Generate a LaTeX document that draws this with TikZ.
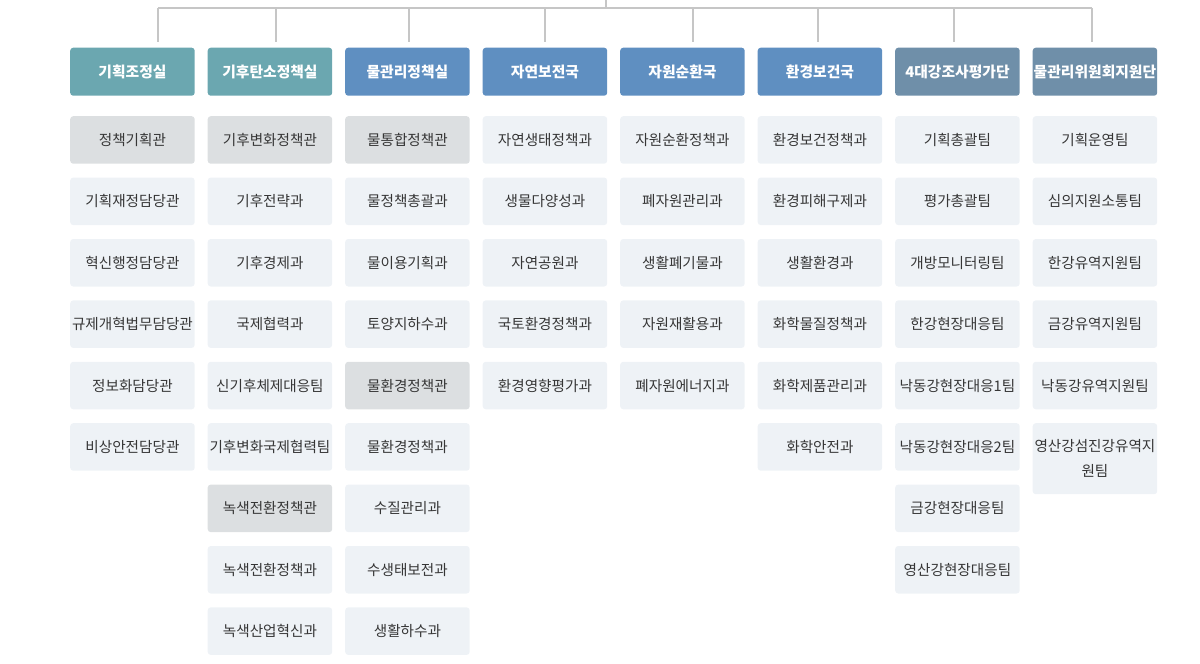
\documentclass[tikz,border=0pt]{standalone}
\usepackage{fontspec}
\setmainfont{Noto Sans CJK KR}
\usetikzlibrary{positioning}

\definecolor{headteal}{HTML}{6BA7B0}
\definecolor{headblue}{HTML}{5F8FC1}
\definecolor{headslate}{HTML}{6F8FA9}
\definecolor{boxlight}{HTML}{EEF2F6}
\definecolor{boxdark}{HTML}{DCDFE1}
\definecolor{linegray}{HTML}{C6C6C6}
\definecolor{textgray}{HTML}{363636}

\tikzset{
  head/.style={anchor=north west, rounded corners=3pt, minimum width=124.5pt, minimum height=48pt,
    inner sep=0pt, text=white, font=\fontsize{14.8}{18}\selectfont\bfseries},
  unit/.style={anchor=north west, rounded corners=3pt, minimum width=124.5pt, minimum height=47.5pt,
    inner sep=0pt, text=textgray, align=center, font=\fontsize{14.6}{25}\selectfont},
  light/.style={unit, fill=boxlight},
  dark/.style={unit, fill=boxdark},
  link/.style={draw=linegray, line width=2pt}
}

\begin{document}
\begin{tikzpicture}[x=1pt, y=-1pt]
    \useasboundingbox (0,0) rectangle (1200,664);
    % top connector
    \coordinate (root) at (606,0);
    \coordinate (hub) at (606,8);
    \foreach \i/\x in {1/158, 2/276, 3/409, 4/545, 5/693, 6/818, 7/954, 8/1092}{
        \coordinate (d\i) at (\x,8);
        \coordinate (e\i) at (\x,42);
        \draw[link] (d\i) -- (e\i);
    }
    \draw[link] (root) -- (hub);
    \draw[link] (d1) -- (d8);
    % offices
    \foreach \i/\c/\t in {1/headteal/기획조정실, 2/headteal/기후탄소정책실, 3/headblue/물관리정책실,
        4/headblue/자연보전국, 5/headblue/자원순환국, 6/headblue/환경보건국,
        7/headslate/4대강조사평가단, 8/headslate/물관리위원회지원단}
        \node[head, fill=\c] (h\i) at (70+137.5*\i-137.5, 47.5) {\t};
    % divisions
    \foreach \s/\t [count=\k from 0] in {dark/정책기획관, light/기획재정담당관, light/혁신행정담당관,
        light/규제개혁법무담당관, light/정보화담당관, light/비상안전담당관}
        \node[\s] (a\k) at (70, 116+61.4*\k) {\t};
    \foreach \s/\t [count=\k from 0] in {dark/기후변화정책관, light/기후전략과, light/기후경제과,
        light/국제협력과, light/신기후체제대응팀, light/기후변화국제협력팀, dark/녹색전환정책관,
        light/녹색전환정책과, light/녹색산업혁신과}
        \node[\s] (b\k) at (207.5, 116+61.4*\k) {\t};
    \foreach \s/\t [count=\k from 0] in {dark/물통합정책관, light/물정책총괄과, light/물이용기획과,
        light/토양지하수과, dark/물환경정책관, light/물환경정책과, light/수질관리과,
        light/수생태보전과, light/생활하수과}
        \node[\s] (c\k) at (345, 116+61.4*\k) {\t};
    \foreach \s/\t [count=\k from 0] in {light/자연생태정책과, light/생물다양성과, light/자연공원과,
        light/국토환경정책과, light/환경영향평가과}
        \node[\s] (d\k) at (482.5, 116+61.4*\k) {\t};
    \foreach \s/\t [count=\k from 0] in {light/자원순환정책과, light/폐자원관리과, light/생활폐기물과,
        light/자원재활용과, light/폐자원에너지과}
        \node[\s] (f\k) at (620, 116+61.4*\k) {\t};
    \foreach \s/\t [count=\k from 0] in {light/환경보건정책과, light/환경피해구제과, light/생활환경과,
        light/화학물질정책과, light/화학제품관리과, light/화학안전과}
        \node[\s] (g\k) at (757.5, 116+61.4*\k) {\t};
    \foreach \s/\t [count=\k from 0] in {light/기획총괄팀, light/평가총괄팀, light/개방모니터링팀,
        light/한강현장대응팀, light/낙동강현장대응1팀, light/낙동강현장대응2팀,
        light/금강현장대응팀, light/영산강현장대응팀}
        \node[\s] (p\k) at (895, 116+61.4*\k) {\t};
    \foreach \s/\t [count=\k from 0] in {light/기획운영팀, light/심의지원소통팀, light/한강유역지원팀,
        light/금강유역지원팀, light/낙동강유역지원팀}
        \node[\s] (q\k) at (1032.5, 116+61.4*\k) {\t};
    \node[light, minimum height=71pt] (q5) at (1032.5, 116+61.4*5) {영산강섬진강유역지\\원팀};
\end{tikzpicture}
\end{document}
